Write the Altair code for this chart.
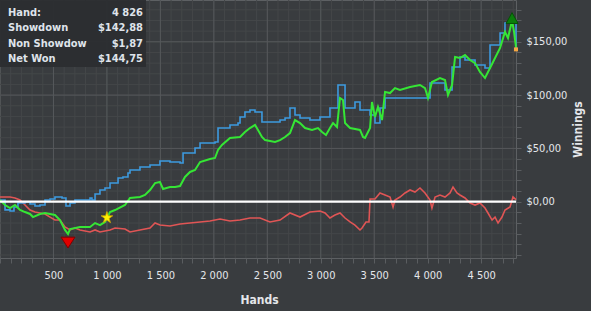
import altair as alt
import pandas as pd
import numpy as np

# ---------------- data ----------------
total_hands = 4826

showdown_hands = [0, 47, 94, 131, 168, 234, 281, 327, 374, 421, 468, 514, 580, 617, 655, 701, 795, 842, 860, 889,
                  935, 982, 1029, 1076, 1104, 1150, 1197, 1216, 1309, 1403, 1496, 1590, 1684, 1712, 1777, 1824, 1871,
                  2011, 2039, 2151, 2226, 2245, 2291, 2338, 2385, 2450, 2525, 2619, 2666, 2712, 2759, 2806, 2899, 2993,
                  3086, 3152, 3161, 3208, 3227, 3320, 3367, 3461, 3507, 3554, 3601, 3741, 3928, 4022, 4115, 4162, 4228,
                  4302, 4349, 4443, 4536, 4583, 4677, 4723, 4770, 4826]
showdown_vals = [1.6, -7.7, -8.7, -5.0, -1.2, -0.3, -2.2, -4.0, -3.1, 1.6, 2.5, 4.4, 3.5, -4.0, -1.2, 1.6, 1.6, 3.5, 1.6, 7.2,
                 11.0, 12.9, 17.5, 17.5, 22.2, 23.2, 26.9, 29.7, 32.5, 34.4, 38.2, 37.2, 36.3, 45.7, 45.7, 50.4, 55.1,
                 56.0, 69.1, 71.9, 73.8, 79.5, 84.1, 86.0, 84.1, 74.8, 74.8, 76.6, 78.5, 87.9, 81.3, 78.5, 76.6, 79.5,
                 87.9, 87.9, 109.5, 109.5, 87.9, 93.5, 86.0, 81.3, 73.8, 87.9, 97.3, 97.3, 97.3, 111.3, 111.3, 104.8, 126.3,
                 135.7, 132.9, 128.2, 125.4, 147.0, 158.2, 167.6, 168.6, 142.88]

net_hands = [0, 47, 94, 140, 187, 234, 281, 309, 374, 421, 514, 561, 608, 636, 655, 748, 842, 889, 935, 982,
             1029, 1076, 1169, 1216, 1309, 1356, 1403, 1450, 1496, 1525, 1590, 1637, 1684, 1730, 1777, 1824, 1871,
             1964, 2011, 2039, 2076, 2151, 2245, 2291, 2338, 2385, 2413, 2450, 2479, 2572, 2619, 2666, 2712, 2759,
             2806, 2853, 2918, 2974, 3012, 3049, 3086, 3115, 3152, 3180, 3208, 3227, 3274, 3367, 3395, 3414, 3461,
             3479, 3507, 3535, 3573, 3601, 3648, 3694, 3741, 3835, 3928, 3975, 4003, 4040, 4115, 4162, 4190, 4228,
             4256, 4302, 4349, 4396, 4443, 4489, 4536, 4583, 4630, 4677, 4723, 4751, 4789, 4808, 4826]
net_vals = [1.6, -3.1, -5.9, -3.1, -7.7, -9.7, -11.5, -14.4, -11.5, -10.6, -12.5, -17.2, -26.5, -30.3, -25.6, -23.7,
            -23.7, -20.0, -21.9, -19.0, -9.7, -7.8, -3.1, 3.5, 4.4, 6.3, 11.0, 17.5, 18.5, 11.9, 13.8, 13.8, 14.7,
            23.2, 27.9, 29.7, 37.2, 40.1, 41.0, 48.5, 53.2, 59.8, 60.7, 65.4, 69.1, 72.0, 67.3, 60.7, 57.8, 56.0,
            57.8, 60.7, 64.4, 76.6, 73.8, 69.1, 67.3, 69.1, 65.4, 62.6, 69.1, 73.8, 70.1, 97.3, 95.4, 73.8, 69.1,
            67.3, 60.7, 59.8, 69.1, 93.5, 79.5, 88.9, 76.6, 102.9, 101.9, 106.6, 104.8, 107.6, 109.5, 106.6, 97.3,
            112.3, 116.0, 114.2, 100.1, 109.5, 135.7, 134.8, 137.6, 132.9, 130.0, 121.7, 116.0, 125.4, 134.8, 144.2,
            159.2, 153.6, 170.0, 159.2, 144.75]

nonsd_hands = [0, 94, 140, 187, 234, 281, 327, 374, 421, 468, 514, 561, 608, 655, 701, 748, 842, 889, 935, 1029,
               1076, 1169, 1216, 1309, 1403, 1450, 1496, 1590, 1684, 1777, 1871, 1964, 2058, 2151, 2245, 2338, 2432,
               2525, 2619, 2712, 2806, 2899, 2993, 3040, 3086, 3133, 3180, 3227, 3274, 3320, 3367, 3386, 3423, 3451,
               3461, 3507, 3554, 3601, 3648, 3676, 3694, 3741, 3788, 3835, 3881, 3928, 3975, 4022, 4040, 4069, 4115,
               4162, 4209, 4237, 4274, 4302, 4349, 4396, 4443, 4489, 4536, 4564, 4602, 4630, 4658, 4695, 4723, 4770,
               4798, 4826]
nonsd_vals = [4.4, 4.4, 3.5, 1.6, -3.1, -7.8, -9.7, -10.6, -11.5, -14.4, -17.2, -17.2, -23.7, -26.5, -24.7, -26.5,
              -28.4, -26.5, -28.4, -26.5, -24.7, -25.6, -28.4, -26.5, -24.7, -20.0, -21.9, -22.8, -20.9, -20.0, -19.0,
              -18.1, -16.2, -18.1, -17.2, -15.3, -15.3, -19.0, -17.2, -10.6, -14.4, -9.7, -8.7, -10.6, -15.3, -12.5,
              -10.6, -15.3, -19.0, -21.9, -26.5, -24.7, -19.0, -19.0, 2.5, 2.5, 8.2, 6.3, 4.4, -5.0, 1.6, 4.4, 8.2,
              11.0, 9.1, 12.9, 8.2, 1.6, -5.9, 4.4, 6.3, 4.4, 8.2, 13.8, 8.2, 6.3, 3.5, -1.2, -3.1, -1.2, -5.9, -10.6,
              -17.2, -14.4, -20.0, -14.4, -7.8, -5.0, 4.4, 1.87]

star_hand = [1000]
star_val = [-15.0]

legend_labels = ["Hand:", "Showdown", "Non Showdow", "Net Won"]
legend_values = ["4 826", "$142,88", "$1,87", "$144,75"]

x_ticks = list(range(0, 4827, 100))
x_major = list(range(500, 4827, 500))
y_ticks = list(range(-50, 181, 10))
y_major = [0, 50, 100, 150]

# ---------------- frames ----------------
sd = pd.DataFrame({"hand": showdown_hands, "val": showdown_vals})
nw = pd.DataFrame({"hand": net_hands, "val": net_vals})
ns = pd.DataFrame({"hand": nonsd_hands, "val": nonsd_vals})
imin = int(np.argmin(net_vals))
imax = int(np.argmax(net_vals))
min_df = pd.DataFrame({"hand": [net_hands[imin]], "val": [net_vals[imin]]})
max_df = pd.DataFrame({"hand": [net_hands[imax]], "val": [net_vals[imax]]})
end_df = pd.DataFrame({"hand": [showdown_hands[-1]], "val": [showdown_vals[-1]]})
star_df = pd.DataFrame({"hand": star_hand, "val": star_val})

W, H = 516, 258
xs = alt.Scale(domain=[0, total_hands], nice=False, zero=False)
ys = alt.Scale(domain=[-52.8, 189.2], nice=False, zero=False)

FONT = "DejaVu Sans Condensed"
LABEL_C = "#e4e6ea"
MINOR_C = "#444749"
MAJOR_C = "#55585b"

STAR_PATH = ("M0,-1L0.225,-0.309L0.951,-0.309L0.363,0.118L0.588,0.809L0,0.382"
             "L-0.588,0.809L-0.363,0.118L-0.951,-0.309L-0.225,-0.309Z")
DOWN_PATH = "M-1,0.45L1,0.45L0,2Z"
UP_PATH = "M-1,0.5L1,0.5L0,-1.3Z"

x_axis = alt.Axis(
    title="Hands", values=x_ticks, grid=False, domain=False,
    labelExpr="(datum.value % 500 == 0 && datum.value > 0) ? (datum.value >= 1000 ? (floor(datum.value / 1000) + ' ' + (datum.value % 1000 == 0 ? '000' : '500')) : '500') : ''",
    labelOverlap=False, labelFont=FONT, labelFontSize=11, labelColor=LABEL_C, labelPadding=6,
    tickSize=5, tickColor="#5a5d60",
    titleFont=FONT, titleFontSize=12, titleFontWeight="bold", titleColor=LABEL_C,
    titleX=259, titleY=41, titleBaseline="middle", titleAlign="center",
)
y_axis = alt.Axis(
    title="Winnings", orient="right", values=y_ticks, grid=False, domain=False,
    labelExpr="(datum.value % 50 == 0 && datum.value >= 0) ? ('$' + datum.value + ',00') : ''",
    labelOverlap=False, labelFont=FONT, labelFontSize=11, labelColor=LABEL_C, labelPadding=5,
    tickSize=5, tickColor="#5a5d60",
    titleFont=FONT, titleFontSize=12, titleFontWeight="bold", titleColor=LABEL_C,
    titleAngle=270, titleX=61, titleY=129, titleBaseline="middle", titleAlign="center",
)

def xq():
    return alt.X("hand:Q", scale=xs, axis=x_axis)

def yq():
    return alt.Y("val:Q", scale=ys, axis=y_axis)

minor_x = alt.Chart(pd.DataFrame({"hand": x_ticks})).mark_rule(color=MINOR_C, strokeWidth=1).encode(x=xq())
minor_y = alt.Chart(pd.DataFrame({"val": y_ticks})).mark_rule(color=MINOR_C, strokeWidth=1).encode(y=yq())
major_x = alt.Chart(pd.DataFrame({"hand": x_major})).mark_rule(color=MAJOR_C, strokeWidth=1).encode(x=xq())
major_y = alt.Chart(pd.DataFrame({"val": y_major})).mark_rule(color=MAJOR_C, strokeWidth=1).encode(y=yq())

red_line = alt.Chart(ns).mark_line(color="#e05555", strokeWidth=1.6).encode(x=xq(), y=yq())
blue_line = alt.Chart(sd).mark_line(color="#3d9ae0", strokeWidth=1.6, interpolate="step-after").encode(x=xq(), y=yq())
green_line = alt.Chart(nw).mark_line(color="#35e635", strokeWidth=2).encode(x=xq(), y=yq())

zero_line = alt.Chart(pd.DataFrame({"val": [0]})).mark_rule(color="#ffffff", strokeWidth=2.2).encode(y=yq())

end_mark = alt.Chart(end_df).mark_point(
    shape="square", size=16, filled=True, color="#f5a742", opacity=1).encode(x=xq(), y=yq())
min_mark = alt.Chart(min_df).mark_point(
    shape=DOWN_PATH, size=196, filled=True, fill="#e00000", stroke="#800000", strokeWidth=1,
    opacity=1).encode(x=xq(), y=yq())
max_mark = alt.Chart(max_df).mark_point(
    shape=UP_PATH, size=144, filled=True, fill="#0b7e0b", stroke="#065206", strokeWidth=1,
    opacity=1).encode(x=xq(), y=yq())
star_mark = alt.Chart(star_df).mark_point(
    shape=STAR_PATH, size=150, filled=True, fill="#fff200", stroke="#c9a400", strokeWidth=0.8,
    opacity=1).encode(x=xq(), y=yq())

box = alt.Chart(pd.DataFrame({"a": [0]})).mark_rect(color="#2b2d30", opacity=0.95).encode(
    x=alt.value(0), x2=alt.value(146), y=alt.value(0), y2=alt.value(67))

leg_layers = []
for i, (lab, val) in enumerate(zip(legend_labels, legend_values)):
    yy = 13 + i * 15.4
    d = pd.DataFrame({"t": [lab], "v": [val]})
    leg_layers.append(alt.Chart(d).mark_text(
        align="left", baseline="middle", font=FONT, fontSize=11, fontWeight="bold", color="#dfe3ea"
    ).encode(text="t:N", x=alt.value(8), y=alt.value(yy)))
    leg_layers.append(alt.Chart(d).mark_text(
        align="right", baseline="middle", font=FONT, fontSize=11, fontWeight="bold", color="#dfe3ea"
    ).encode(text="v:N", x=alt.value(143), y=alt.value(yy)))

chart = alt.layer(
    minor_x, minor_y, major_x, major_y,
    box, *leg_layers,
    red_line, blue_line, green_line, zero_line,
    end_mark, min_mark, max_mark, star_mark,
).properties(
    width=W, height=H, background="#393c3f",
    padding={"left": 0, "top": 0, "right": 591 - W, "bottom": 311 - H},
    autosize=alt.AutoSizeParams(type="none"),
).configure_view(
    fill="#393c3f", stroke="#5d6063", strokeWidth=1
)

chart.save("out.html", embed_options={"renderer": "svg", "actions": False})
